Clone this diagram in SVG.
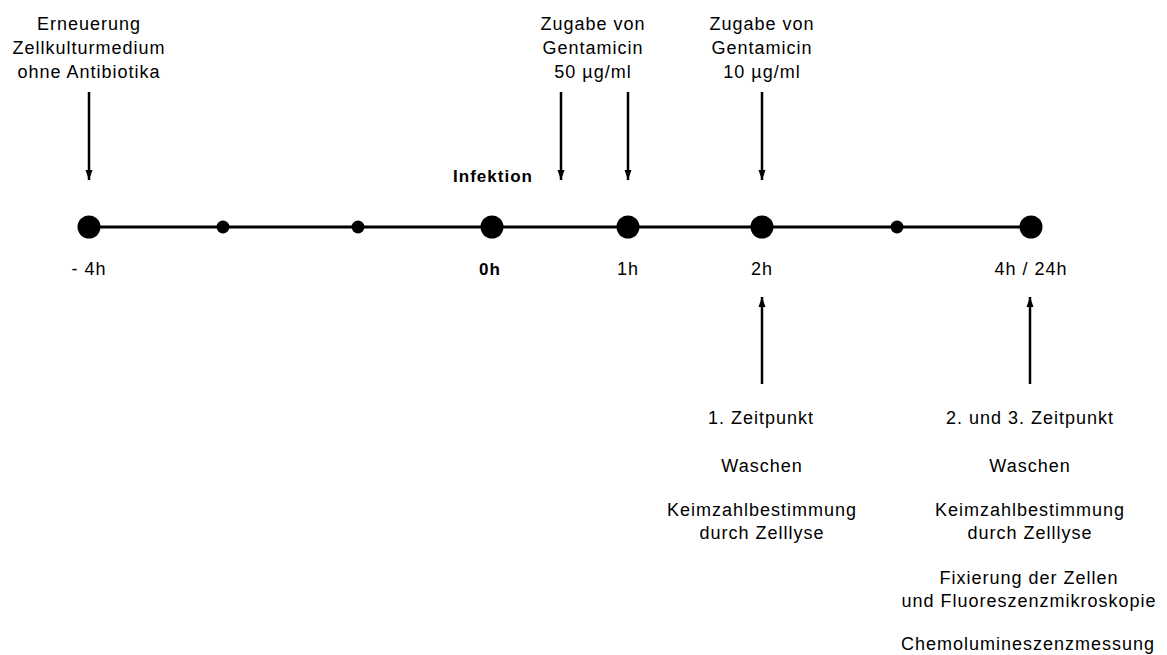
<svg xmlns="http://www.w3.org/2000/svg" width="1167" height="655" viewBox="0 0 1167 655">
<style>
text{font-family:"Liberation Sans",Arial,sans-serif;font-size:18px;letter-spacing:1px;fill:#000;text-anchor:middle}
.b{font-weight:bold;font-size:17px}
.ln{stroke:#000;stroke-width:2.5;fill:none}
</style>
<defs>
<marker id="ah" viewBox="0 0 10 8" refX="10" refY="4" markerWidth="11" markerHeight="8" markerUnits="userSpaceOnUse" orient="auto">
<path d="M0,0.5 L10,4 L0,7.5 Z" fill="#000"/>
</marker>
</defs>
<rect width="1167" height="655" fill="#fff"/>
<g id="connectors">
<line x1="89" y1="227" x2="1030" y2="227" stroke="#000" stroke-width="3"/>
<line class="ln" x1="89" y1="92" x2="89" y2="180" marker-end="url(#ah)"/>
<line class="ln" x1="561" y1="92" x2="561" y2="180" marker-end="url(#ah)"/>
<line class="ln" x1="628" y1="92" x2="628" y2="180" marker-end="url(#ah)"/>
<line class="ln" x1="762" y1="92" x2="762" y2="180" marker-end="url(#ah)"/>
<line class="ln" x1="762" y1="384" x2="762" y2="297" marker-end="url(#ah)"/>
<line class="ln" x1="1030" y1="384" x2="1030" y2="297" marker-end="url(#ah)"/>
</g>
<g id="t-4">
<circle cx="89" cy="227" r="11.5"/>
<text x="89" y="275">- 4h</text>
<text x="89" y="30">Erneuerung</text>
<text x="89" y="54">Zellkulturmedium</text>
<text x="89" y="78">ohne Antibiotika</text>
</g>
<g id="t-3"><circle cx="223" cy="227" r="6.5"/></g>
<g id="t-2"><circle cx="358" cy="227" r="6.5"/></g>
<g id="t0">
<circle cx="492" cy="227" r="11.5"/>
<text class="b" x="490" y="275">0h</text>
<text class="b" x="493" y="182">Infektion</text>
</g>
<g id="g50">
<text x="593" y="30">Zugabe von</text>
<text x="593" y="54">Gentamicin</text>
<text x="593" y="78">50 µg/ml</text>
</g>
<g id="t1">
<circle cx="628" cy="227" r="11.5"/>
<text x="628" y="275">1h</text>
</g>
<g id="t2">
<circle cx="762" cy="227" r="11.5"/>
<text x="762" y="275">2h</text>
<text x="762" y="30">Zugabe von</text>
<text x="762" y="54">Gentamicin</text>
<text x="762" y="78">10 µg/ml</text>
</g>
<g id="t3"><circle cx="897" cy="227" r="6.5"/></g>
<g id="t4">
<circle cx="1031" cy="227" r="11.5"/>
<text x="1031" y="275">4h / 24h</text>
</g>
<g id="zp1">
<text x="761" y="424">1. Zeitpunkt</text>
<text x="762" y="472">Waschen</text>
<text x="762" y="516">Keimzahlbestimmung</text>
<text x="762" y="539">durch Zelllyse</text>
</g>
<g id="zp23">
<text x="1030" y="424">2. und 3. Zeitpunkt</text>
<text x="1030" y="472">Waschen</text>
<text x="1030" y="516">Keimzahlbestimmung</text>
<text x="1030" y="539">durch Zelllyse</text>
<text x="1029" y="584">Fixierung der Zellen</text>
<text x="1029" y="607">und Fluoreszenzmikroskopie</text>
<text x="1028" y="650">Chemolumineszenzmessung</text>
</g>
</svg>
